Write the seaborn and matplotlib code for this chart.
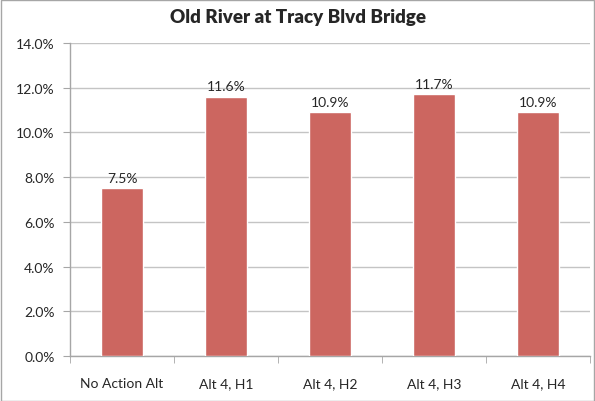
import matplotlib
matplotlib.use("Agg")
import matplotlib.pyplot as plt
import seaborn as sns
import pandas as pd
from matplotlib.patches import Rectangle
from matplotlib.ticker import FuncFormatter, MultipleLocator

sns.set_style("white")
plt.rcParams['font.family'] = ['Lato', 'DejaVu Sans']

# values
categories = ["No Action Alt", "Alt 4, H1", "Alt 4, H2", "Alt 4, H3", "Alt 4, H4"]
values = [7.5, 11.6, 10.9, 11.7, 10.9]
labels = ["7.5%", "11.6%", "10.9%", "11.7%", "10.9%"]

df = pd.DataFrame({"cat": categories, "val": values})

fig = plt.figure(figsize=(5.95, 4.02), dpi=100)
ax = fig.add_axes([70 / 595, 1 - 357 / 402, 520 / 595, 313 / 402])

sns.barplot(data=df, x="cat", y="val", color="#CC6660", saturation=1,
            width=0.40, ax=ax, zorder=3)

ax.set_ylim(0, 14)
ax.set_xlim(-0.5, len(categories) - 0.5)
ax.yaxis.set_major_locator(MultipleLocator(2))
ax.yaxis.set_major_formatter(FuncFormatter(lambda v, p: f"{v:.1f}%"))
ax.grid(axis="y", color="#C4C4C4", linewidth=1, zorder=0)
ax.set_xlabel("")
ax.set_ylabel("")

for s in ["top", "right"]:
    ax.spines[s].set_visible(False)
for s in ["left", "bottom"]:
    ax.spines[s].set_color("#A6A6A6")
    ax.spines[s].set_linewidth(1)

# category boundary ticks below the axis
ax.set_xticks(range(len(categories)))
ax.set_xticklabels(categories)
ax.set_xticks([i - 0.5 for i in range(len(categories) + 1)], minor=True)
ax.tick_params(axis="x", which="major", length=0, pad=15, labelsize=10)
ax.tick_params(axis="x", which="minor", length=5, color="#A6A6A6", direction="out")
ax.tick_params(axis="y", length=5, color="#A6A6A6", direction="out", labelsize=10, pad=6)
ax.tick_params(bottom=True, left=True, which="both")

for i, (v, t) in enumerate(zip(values, labels)):
    ax.text(i, v + 0.2, t, ha="center", va="bottom", fontsize=10)

fig.text(0.5, 1 - 18 / 402, "Old River at Tracy Blvd Bridge", ha="center",
         va="center", fontsize=13.5, fontweight="heavy")

fig.patches.append(Rectangle((0.5 / 595, 0.5 / 402), 1 - 1.5 / 595, 1 - 1.5 / 402,
                             transform=fig.transFigure, fill=False,
                             edgecolor="#A6A6A6", linewidth=1))

fig.savefig("out.png", dpi=100)
